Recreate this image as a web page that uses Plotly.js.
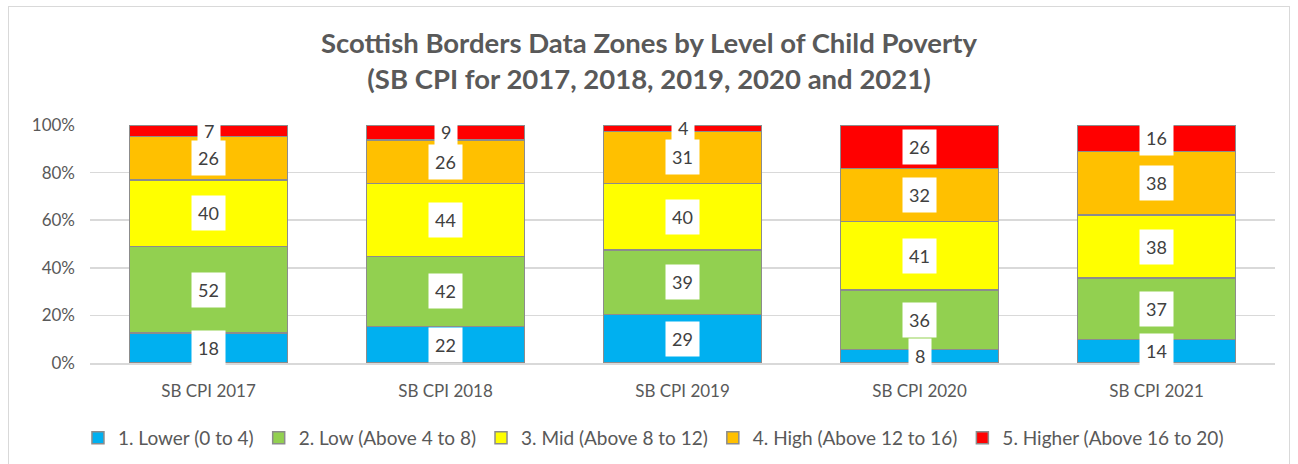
<!DOCTYPE html>
<html><head><meta charset="utf-8">
<script src="https://cdn.plot.ly/plotly-3.0.1.min.js"></script>
<style>
html,body{margin:0;padding:0;background:#fff;}
#frame{position:absolute;left:8px;top:6px;width:1282px;height:470px;border:1px solid #d9d9d9;box-sizing:border-box;}
#chart{position:absolute;left:0;top:0;width:1298px;height:464px;}
</style></head><body>
<div id="frame"></div>
<div id="chart"></div>
<script>
const categories = ["SB CPI 2017","SB CPI 2018","SB CPI 2019","SB CPI 2020","SB CPI 2021"];
const seriesNames = ["1. Lower (0 to 4)","2. Low (Above 4 to 8)","3. Mid (Above 8 to 12)","4. High (Above 12 to 16)","5. Higher (Above 16 to 20)"];
const lower  = [18,22,29,8,14];
const low    = [52,42,39,36,37];
const mid    = [40,44,40,41,38];
const high   = [26,26,31,32,38];
const higher = [7,9,4,26,16];
const colors = ["#00b0f0","#92d050","#ffff00","#ffc000","#ff0000"];
const yTicks = [0,20,40,60,80,100];
const yTickLabels = ["0%","20%","40%","60%","80%","100%"];

const series = [lower, low, mid, high, higher];
const FONT = "Lato, 'Open Sans', sans-serif";

const traces = series.map((vals,i)=>({
  type:"bar", name:seriesNames[i], x:categories, y:vals,
  marker:{color:colors[i], line:{color:"#8c8c8c", width:1.5}},
  hoverinfo:"y"
}));

const totals = categories.map((c,j)=>series.reduce((s,a)=>s+a[j],0));
const annotations = [];
categories.forEach((c,j)=>{
  let cum = 0;
  series.forEach((vals,i)=>{
    const pct = vals[j]/totals[j]*100;
    annotations.push({x:c, y:cum+pct/2, xref:"x", yref:"y", text:String(vals[j]),
      showarrow:false, bgcolor:"#ffffff", borderpad:6,
      font:{family:FONT, size:18, color:"#404040"}});
    cum += pct;
  });
});

const layout = {
  width:1298, height:464,
  paper_bgcolor:"rgba(0,0,0,0)", plot_bgcolor:"rgba(0,0,0,0)",
  margin:{l:90, r:23, t:125, b:101, autoexpand:false},
  barmode:"stack", barnorm:"percent", bargap:0.333,
  title:{text:"<b>Scottish Borders Data Zones by Level of Child Poverty<br>(SB CPI for 2017, 2018, 2019, 2020 and 2021)</b>",
    x:0.5, xanchor:"center", y:0.885, yanchor:"top", yref:"container",
    font:{family:FONT, size:27.5, color:"#595959"}},
  font:{family:FONT, color:"#595959", size:17},
  xaxis:{type:"category", showgrid:false, showline:true, linecolor:"#d9d9d9", linewidth:2,
    ticks:"", ticklabelstandoff:12, tickfont:{size:17, color:"#595959"}},
  yaxis:{range:[0,100], tickvals:yTicks, ticktext:yTickLabels, showgrid:true, gridcolor:"#d9d9d9",
    gridwidth:1.5, zeroline:false, showline:false, ticks:"", ticklabelstandoff:14,
    tickfont:{size:17, color:"#595959"}},
  legend:{orientation:"h", x:0.4755, xanchor:"center", y:-0.235, yanchor:"top",
    font:{size:19, color:"#595959"}, traceorder:"normal", itemwidth:30},
  annotations:annotations,
  showlegend:true
};
Plotly.newPlot("chart", traces, layout, {displayModeBar:false, staticPlot:true});
</script>
</body></html>
